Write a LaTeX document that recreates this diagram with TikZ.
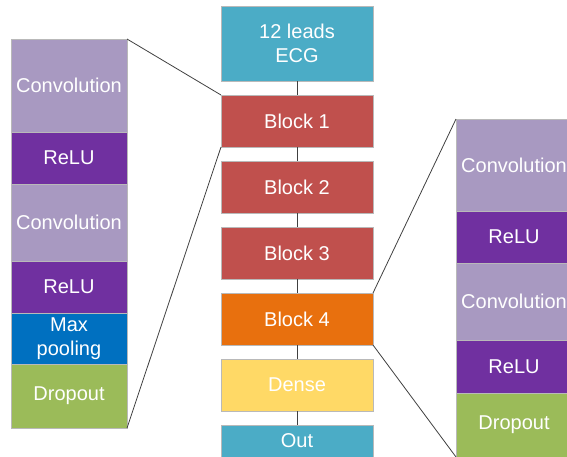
\documentclass[tikz,border=0pt]{standalone}
\usepackage{fontspec}
\setmainfont{Liberation Sans}
\usetikzlibrary{positioning}
\definecolor{ecgblue}{HTML}{4BACC6}
\definecolor{blockred}{HTML}{C0504D}
\definecolor{blockorange}{HTML}{E8700E}
\definecolor{denseyellow}{HTML}{FFD966}
\definecolor{convlilac}{HTML}{A899C1}
\definecolor{relupurple}{HTML}{7030A0}
\definecolor{poolblue}{HTML}{0070C0}
\definecolor{dropgreen}{HTML}{9BBB59}
\tikzset{layer/.style={draw=gray!55,line width=0.6pt,rectangle,inner sep=0pt,outer sep=0pt,text=white,align=center,
    font=\fontsize{20}{23.5}\selectfont,minimum width=152pt,minimum height=52pt},
  sublayer/.style={layer,minimum width=116pt},
  link/.style={draw=black!75,line width=0.8pt}}

\begin{document}
\begin{tikzpicture}[x=1pt,y=-1pt]
            \useasboundingbox (0,0) rectangle (567,456);
            \clip (0,0) rectangle (567,456);
            % основная сеть
            \node[layer,fill=ecgblue,minimum height=75pt] (ecg) at (297,43.5) {12 leads\\ECG};
            \node[layer,fill=blockred] (b1) at (297,121) {Block 1};
            \node[layer,fill=blockred,below=14pt of b1] (b2) {Block 2};
            \node[layer,fill=blockred,below=14pt of b2] (b3) {Block 3};
            \node[layer,fill=blockorange,below=14pt of b3] (b4) {Block 4};
            \node[layer,fill=denseyellow,below=14pt of b4] (dense) {Dense};
            \node[layer,fill=ecgblue,minimum height=32pt,below=14pt of dense] (out) {Out};
            \draw[link] (ecg.south) -- (b1.north);
            \draw[link] (b1.south) -- (b2.north);
            \draw[link] (b2.south) -- (b3.north);
            \draw[link] (b3.south) -- (b4.north);
            \draw[link] (b4.south) -- (dense.north);
            \draw[link] (dense.south) -- (out.north);

            % блок 1
            \node[sublayer,fill=convlilac,minimum height=93pt] (lc1) at (69,85.5) {Convolution};
            \node[sublayer,fill=relupurple,below=0pt of lc1] (lr1) {ReLU};
            \node[sublayer,fill=convlilac,minimum height=77pt,below=0pt of lr1] (lc2) {Convolution};
            \node[sublayer,fill=relupurple,below=0pt of lc2] (lr2) {ReLU};
            \node[sublayer,fill=poolblue,minimum height=51pt,below=0pt of lr2] (lmp) {Max\\pooling};
            \node[sublayer,fill=dropgreen,minimum height=64pt,below=0pt of lmp] (ldo) {Dropout};
            \draw[link] (lc1.north east) -- (b1.north west);
            \draw[link] (ldo.south east) -- (b1.south west);

            % блок 4
            \node[sublayer,fill=convlilac,minimum height=92pt] (rc1) at (514,165) {Convolution};
            \node[sublayer,fill=relupurple,below=0pt of rc1] (rr1) {ReLU};
            \node[sublayer,fill=convlilac,minimum height=77pt,below=0pt of rr1] (rc2) {Convolution};
            \node[sublayer,fill=relupurple,minimum height=53pt,below=0pt of rc2] (rr2) {ReLU};
            \node[sublayer,fill=dropgreen,minimum height=64pt,below=0pt of rr2] (rdo) {Dropout};
            \draw[link] (b4.north east) -- (rc1.north west);
            \draw[link] (b4.south east) -- (rdo.south west);
\end{tikzpicture}
\end{document}
